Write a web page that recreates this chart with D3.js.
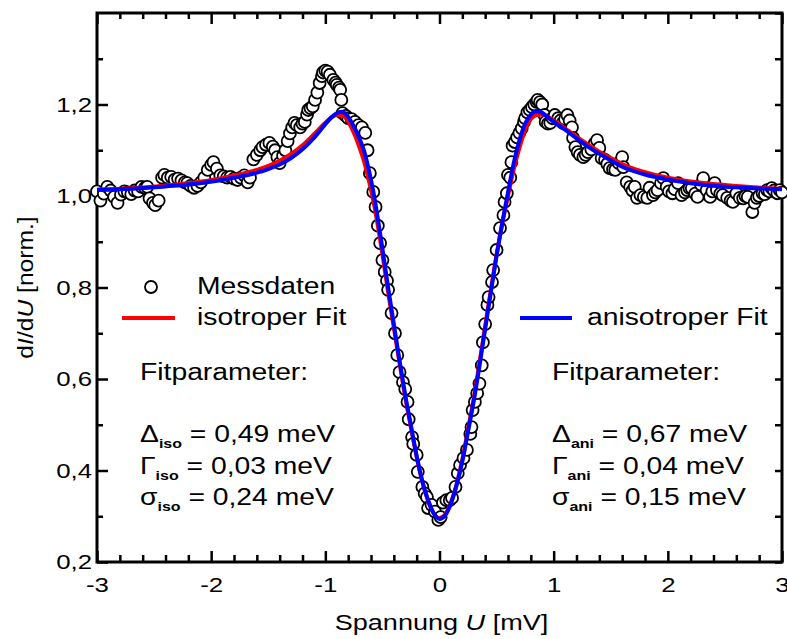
<!DOCTYPE html>
<html>
<head>
<meta charset="utf-8">
<script src="https://cdn.jsdelivr.net/npm/d3@7"></script>
<style>
    body { margin: 0; background: #fff; }
    text { font-family: "Liberation Sans", Arial, sans-serif; fill: #000; }
</style>
</head>
<body>
<div id="chart" style="width:787px;height:639px;"></div>
<script>
// Messdaten [U in mV, dI/dU norm.]
const messdaten = [
    [-3.00,1.010],[-2.97,0.990],[-2.94,1.005],[-2.91,1.020],[-2.88,1.012],[-2.85,0.998],[-2.82,0.985],[-2.79,1.003],
    [-2.76,1.010],[-2.73,1.008],[-2.70,1.004],[-2.67,1.012],[-2.64,1.010],[-2.61,1.020],[-2.58,1.018],[-2.56,1.020],
    [-2.54,0.995],[-2.51,0.985],[-2.49,0.980],[-2.46,0.990],[-2.43,1.040],[-2.41,1.046],[-2.38,1.040],[-2.35,1.042],
    [-2.32,1.036],[-2.29,1.038],[-2.26,1.034],[-2.23,1.030],[-2.21,1.028],[-2.18,1.022],[-2.15,1.018],[-2.12,1.022],
    [-2.09,1.030],[-2.06,1.040],[-2.03,1.057],[-2.00,1.068],[-1.98,1.074],[-1.95,1.060],[-1.92,1.045],[-1.89,1.043],
    [-1.86,1.040],[-1.83,1.042],[-1.80,1.038],[-1.77,1.035],[-1.74,1.040],[-1.71,1.045],[-1.68,1.030],[-1.66,1.040],
    [-1.63,1.080],[-1.60,1.090],[-1.57,1.100],[-1.55,1.107],[-1.52,1.112],[-1.49,1.116],[-1.46,1.108],[-1.44,1.100],
    [-1.42,1.085],[-1.40,1.072],[-1.37,1.088],[-1.35,1.100],[-1.33,1.120],[-1.31,1.137],[-1.29,1.150],[-1.27,1.160],
    [-1.25,1.155],[-1.22,1.150],[-1.20,1.158],[-1.18,1.162],[-1.16,1.178],[-1.15,1.188],[-1.13,1.192],[-1.11,1.196],
    [-1.09,1.210],[-1.07,1.226],[-1.05,1.247],[-1.03,1.262],[-1.02,1.270],[-1.00,1.274],[-0.98,1.272],[-0.96,1.265],
    [-0.93,1.254],[-0.91,1.248],[-0.90,1.243],[-0.88,1.237],[-0.87,1.232],[-0.86,1.210],[-0.85,1.181],[-0.82,1.175],
    [-0.80,1.170],[-0.77,1.168],[-0.74,1.162],[-0.71,1.155],[-0.68,1.150],[-0.65,1.138],[-0.63,1.100],[-0.61,1.050],
    [-0.58,1.009],[-0.56,0.976],[-0.54,0.935],[-0.52,0.897],[-0.50,0.860],[-0.48,0.834],[-0.46,0.815],[-0.45,0.795],
    [-0.42,0.744],[-0.39,0.700],[-0.37,0.652],[-0.35,0.615],[-0.32,0.593],[-0.30,0.578],[-0.28,0.550],[-0.27,0.512],
    [-0.24,0.473],[-0.23,0.458],[-0.20,0.434],[-0.19,0.397],[-0.15,0.364],[-0.13,0.350],[-0.11,0.342],[-0.10,0.318],
    [-0.07,0.325],[-0.04,0.310],[-0.01,0.292],[0.01,0.298],[0.03,0.330],[0.06,0.335],[0.09,0.335],[0.11,0.340],
    [0.14,0.364],[0.16,0.394],[0.18,0.412],[0.21,0.427],[0.24,0.445],[0.27,0.480],[0.28,0.495],[0.29,0.532],
    [0.31,0.550],[0.33,0.569],[0.35,0.590],[0.37,0.630],[0.38,0.680],[0.40,0.720],[0.42,0.762],[0.43,0.779],
    [0.46,0.812],[0.47,0.838],[0.50,0.882],[0.53,0.930],[0.56,0.958],[0.57,0.987],[0.59,1.006],[0.60,1.046],
    [0.62,1.040],[0.63,1.074],[0.64,1.110],[0.66,1.118],[0.68,1.128],[0.70,1.138],[0.72,1.148],[0.74,1.162],
    [0.75,1.170],[0.77,1.183],[0.79,1.188],[0.81,1.194],[0.83,1.200],[0.85,1.206],[0.86,1.210],[0.88,1.205],
    [0.90,1.200],[0.92,1.177],[0.93,1.162],[0.95,1.158],[0.97,1.160],[0.99,1.170],[1.01,1.177],[1.04,1.170],
    [1.06,1.165],[1.08,1.160],[1.10,1.168],[1.12,1.177],[1.14,1.165],[1.16,1.150],[1.17,1.127],[1.19,1.107],
    [1.21,1.096],[1.23,1.090],[1.26,1.085],[1.28,1.090],[1.30,1.096],[1.33,1.102],[1.36,1.115],[1.38,1.122],
    [1.40,1.105],[1.42,1.083],[1.45,1.079],[1.47,1.070],[1.49,1.061],[1.52,1.058],[1.54,1.057],[1.57,1.072],
    [1.60,1.085],[1.61,1.063],[1.64,1.030],[1.67,1.020],[1.69,1.012],[1.71,1.020],[1.73,0.996],[1.76,1.002],
    [1.79,0.998],[1.82,0.996],[1.84,1.018],[1.87,1.002],[1.89,1.008],[1.91,1.013],[1.94,1.028],[1.96,1.039],
    [1.99,1.020],[2.01,1.010],[2.04,1.006],[2.06,1.015],[2.09,1.028],[2.12,1.002],[2.15,1.008],[2.17,1.013],
    [2.19,1.017],[2.21,1.017],[2.24,1.005],[2.26,0.998],[2.29,1.025],[2.31,1.039],[2.34,1.013],[2.37,0.998],
    [2.39,1.010],[2.41,1.028],[2.43,1.013],[2.46,1.005],[2.48,1.002],[2.52,0.996],[2.55,0.990],[2.57,0.987],
    [2.60,1.006],[2.63,0.996],[2.66,0.995],[2.68,1.000],[2.70,0.998],[2.74,0.965],[2.76,0.985],[2.78,0.996],
    [2.80,1.000],[2.83,1.006],[2.85,1.004],[2.87,1.013],[2.89,1.010],[2.91,1.017],[2.93,1.012],[2.96,1.006],
    [2.98,1.013],[3.00,1.008]
];

// isotroper Fit
const isoFit = [
    [-3.00,1.014],[-2.70,1.017],[-2.40,1.023],[-2.10,1.031],[-1.80,1.045],[-1.60,1.057],[-1.50,1.066],[-1.40,1.077],
    [-1.30,1.092],[-1.20,1.111],[-1.10,1.135],[-1.00,1.160],[-0.95,1.171],[-0.90,1.177],[-0.86,1.177],[-0.82,1.170],
    [-0.78,1.154],[-0.74,1.132],[-0.70,1.105],[-0.66,1.075],[-0.62,1.035],[-0.58,0.990],[-0.54,0.935],[-0.50,0.872],
    [-0.45,0.790],[-0.40,0.712],[-0.35,0.635],[-0.30,0.560],[-0.25,0.494],[-0.20,0.430],[-0.15,0.375],[-0.10,0.334],
    [-0.05,0.306],[0.00,0.296],[0.05,0.304],[0.10,0.330],[0.15,0.370],[0.20,0.424],[0.25,0.490],[0.30,0.558],
    [0.35,0.635],[0.40,0.715],[0.45,0.795],[0.50,0.872],[0.55,0.940],[0.60,1.000],[0.65,1.058],[0.70,1.105],
    [0.75,1.145],[0.80,1.168],[0.85,1.177],[0.90,1.178],[0.95,1.173],[1.00,1.165],[1.10,1.148],[1.20,1.130],
    [1.30,1.113],[1.40,1.097],[1.50,1.083],[1.60,1.070],[1.80,1.052],[2.00,1.040],[2.20,1.032],[2.50,1.024],
    [2.75,1.019],[3.00,1.016]
];

// anisotroper Fit
const aniFit = [
    [-3.00,1.013],[-2.70,1.016],[-2.40,1.021],[-2.10,1.028],[-1.80,1.040],[-1.60,1.051],[-1.50,1.059],[-1.40,1.069],
    [-1.30,1.083],[-1.20,1.102],[-1.10,1.127],[-1.00,1.157],[-0.95,1.171],[-0.90,1.181],[-0.86,1.184],[-0.82,1.179],
    [-0.78,1.165],[-0.74,1.147],[-0.70,1.125],[-0.66,1.098],[-0.62,1.058],[-0.58,1.010],[-0.54,0.950],[-0.50,0.885],
    [-0.45,0.800],[-0.40,0.720],[-0.35,0.640],[-0.30,0.565],[-0.25,0.498],[-0.20,0.432],[-0.15,0.376],[-0.10,0.335],
    [-0.05,0.306],[0.00,0.294],[0.05,0.302],[0.10,0.328],[0.15,0.368],[0.20,0.420],[0.25,0.485],[0.30,0.552],
    [0.35,0.628],[0.40,0.710],[0.45,0.790],[0.50,0.870],[0.55,0.942],[0.60,1.008],[0.65,1.072],[0.70,1.122],
    [0.75,1.158],[0.80,1.178],[0.85,1.185],[0.90,1.182],[0.95,1.172],[1.00,1.162],[1.10,1.145],[1.20,1.126],
    [1.30,1.108],[1.40,1.092],[1.50,1.078],[1.60,1.064],[1.80,1.047],[2.00,1.036],[2.20,1.028],[2.50,1.020],
    [2.75,1.017],[3.00,1.015]
];

const xTicks = [-3, -2, -1, 0, 1, 2, 3];
const yTicks = [0.2, 0.4, 0.6, 0.8, 1.0, 1.2];
const yTickLabels = ["0,2", "0,4", "0,6", "0,8", "1,0", "1,2"];

const legendItems = ["Messdaten", "isotroper Fit", "anisotroper Fit"];
const paramsIso = [["\u0394", "iso", "0,49 meV"], ["\u0393", "iso", "0,03 meV"], ["\u03C3", "iso", "0,24 meV"]];
const paramsAni = [["\u0394", "ani", "0,67 meV"], ["\u0393", "ani", "0,04 meV"], ["\u03C3", "ani", "0,15 meV"]];

// the lettering in the original is drawn wide
const STRETCH = 1.23;

class SpectrumVis {
    constructor(parentElement) {
        this.parentElement = parentElement;
        this.initVis();
    }

    initVis() {
        let vis = this;

        vis.margin = {top: 13, right: 5, bottom: 77, left: 97};
        vis.width = 787 - vis.margin.left - vis.margin.right;
        vis.height = 639 - vis.margin.top - vis.margin.bottom;

        vis.svg = d3.select("#" + vis.parentElement).append("svg")
            .attr("width", 787)
            .attr("height", 639);

        vis.g = vis.svg.append("g")
            .attr("transform", `translate(${vis.margin.left}, ${vis.margin.top})`);

        vis.x = d3.scaleLinear().domain([-3, 3]).range([0, vis.width]);
        vis.y = d3.scaleLinear().domain([0.2, 1.4]).range([vis.height, 0]);

        vis.drawAxes();
        vis.drawData();
        vis.drawLegend();
    }

    addText(x, y, size) {
        return this.svg.append("text")
            .attr("transform", `translate(${x}, ${y}) scale(${STRETCH}, 1)`)
            .style("font-size", size + "px");
    }

    drawAxes() {
        let vis = this;
        const minorX = d3.range(-3, 3.001, 0.2).filter(d => Math.abs(d - Math.round(d)) > 0.01);
        const minorY = d3.range(0.3, 1.4, 0.2);

        // ticks point inwards on all four sides
        const tickStyle = sel => {
            sel.select(".domain").remove();
            sel.selectAll(".tick line").attr("stroke-width", 2.5).attr("stroke", "#000");
        };
        const labelStyle = sel => sel
            .style("font-size", "21px")
            .style("font-family", "'Liberation Sans', Arial, sans-serif")
            .attr("transform", `scale(${STRETCH}, 1)`);

        vis.g.append("g").attr("transform", `translate(0, ${vis.height})`)
            .call(d3.axisBottom(vis.x).tickValues(xTicks).tickSize(-11).tickFormat(d => d))
            .call(tickStyle)
            .call(g => g.selectAll(".tick text").attr("y", 15).attr("dy", "0.71em").call(labelStyle));
        vis.g.append("g").attr("transform", `translate(0, ${vis.height})`)
            .call(d3.axisBottom(vis.x).tickValues(minorX).tickSize(-7).tickFormat(""))
            .call(tickStyle);

        vis.g.append("g")
            .call(d3.axisTop(vis.x).tickValues(xTicks).tickSize(-11).tickFormat(""))
            .call(tickStyle);
        vis.g.append("g")
            .call(d3.axisTop(vis.x).tickValues(minorX).tickSize(-6).tickFormat(""))
            .call(tickStyle);

        vis.g.append("g")
            .call(d3.axisLeft(vis.y).tickValues(yTicks).tickSize(-11).tickFormat((d, i) => yTickLabels[i]))
            .call(tickStyle)
            .call(g => g.selectAll(".tick text").attr("x", -4).call(labelStyle));
        vis.g.append("g")
            .call(d3.axisLeft(vis.y).tickValues(minorY).tickSize(-6).tickFormat(""))
            .call(tickStyle);

        vis.g.append("g").attr("transform", `translate(${vis.width}, 0)`)
            .call(d3.axisRight(vis.y).tickValues(yTicks.concat(minorY, [1.4])).tickSize(-7).tickFormat(""))
            .call(tickStyle);

        vis.g.append("rect")
            .attr("width", vis.width)
            .attr("height", vis.height)
            .attr("fill", "none")
            .attr("stroke", "#000")
            .attr("stroke-width", 3);

        vis.addText(vis.margin.left + vis.x(0) + 2, 630, 22)
            .attr("text-anchor", "middle")
            .html('Spannung <tspan font-style="italic">U</tspan> [mV]');

        vis.svg.append("text")
            .attr("transform", `translate(33, ${vis.margin.top + vis.height / 2}) rotate(-90) scale(1.12, 1)`)
            .attr("text-anchor", "middle")
            .style("font-size", "22px")
            .html('d<tspan font-style="italic">I</tspan>/d<tspan font-style="italic">U</tspan> [norm.]');
    }

    drawData() {
        let vis = this;

        vis.g.selectAll("circle.mess")
            .data(messdaten)
            .enter()
            .append("circle")
            .attr("class", "mess")
            .attr("cx", d => vis.x(d[0]))
            .attr("cy", d => vis.y(d[1]))
            .attr("r", 6)
            .attr("fill", "#fff")
            .attr("stroke", "#000")
            .attr("stroke-width", 1.8);

        vis.line = d3.line()
            .x(d => vis.x(d[0]))
            .y(d => vis.y(d[1]))
            .curve(d3.curveMonotoneX);

        vis.g.append("path")
            .datum(isoFit)
            .attr("d", vis.line)
            .attr("fill", "none")
            .attr("stroke", "#ff0000")
            .attr("stroke-width", 4);

        vis.g.append("path")
            .datum(aniFit)
            .attr("d", vis.line)
            .attr("fill", "none")
            .attr("stroke", "#0000ff")
            .attr("stroke-width", 4);
    }

    drawLegend() {
        let vis = this;

        vis.svg.append("circle")
            .attr("cx", 151).attr("cy", 287).attr("r", 6)
            .attr("fill", "#fff").attr("stroke", "#000").attr("stroke-width", 1.8);
        vis.addText(197, 294, 23).text(legendItems[0]);

        vis.svg.append("line").attr("x1", 122).attr("x2", 175).attr("y1", 318).attr("y2", 318)
            .attr("stroke", "#ff0000").attr("stroke-width", 4);
        vis.addText(197, 325, 23).text(legendItems[1]);

        vis.svg.append("line").attr("x1", 520).attr("x2", 572).attr("y1", 318).attr("y2", 318)
            .attr("stroke", "#0000ff").attr("stroke-width", 4);
        vis.addText(587, 325, 23).text(legendItems[2]);

        vis.addParams(140, paramsIso);
        vis.addParams(552, paramsAni);
    }

    addParams(x0, params) {
        let vis = this;

        vis.addText(x0, 380, 23).text("Fitparameter:");

        params.forEach((p, i) => {
            let t = vis.addText(x0, 442 + i * 31.5, 23);
            t.append("tspan").text(p[0]);
            t.append("tspan").attr("dy", 6).style("font-size", "13px").style("font-weight", "bold").text(p[1]);
            t.append("tspan").attr("dy", -6).text(" = " + p[2]);
        });
    }
}

new SpectrumVis("chart");
</script>
</body>
</html>
